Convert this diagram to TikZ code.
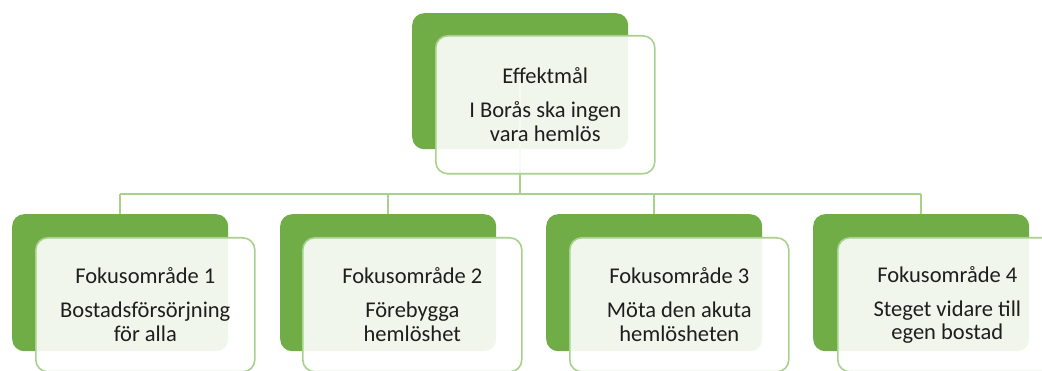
\documentclass[tikz,border=0pt]{standalone}
\usepackage{fontspec}
\setmainfont{Carlito}
\definecolor{gdark}{HTML}{70AD47}
\definecolor{glight}{HTML}{A9D18E}
\definecolor{txt}{HTML}{1E1E1E}
\tikzset{
  backbox/.style={draw=none, fill=gdark, rounded corners=12pt, minimum width=216pt, minimum height=137pt, inner sep=0pt, anchor=north west},
  frontbox/.style={draw=glight, line width=1.6pt, fill=white, fill opacity=0.9, text opacity=1, rounded corners=12pt, minimum width=219pt, minimum height=134pt, inner sep=0pt, anchor=north west, text=txt, align=center, font=\fontsize{22.5pt}{23.5pt}\selectfont},
  conn/.style={draw=glight, line width=1.6pt}
}
\newcommand{\gap}{\\[10.5pt]}
\begin{document}
\begin{tikzpicture}[x=1pt,y=-1pt]
\useasboundingbox (0,0) rectangle (1042,371);
\clip (0,0) rectangle (1042,371);
\fill[white] (0,0) rectangle (1042,371);
% green back boxes
\node[backbox, minimum height=136pt] (g0) at (412,13) {};
\node[backbox] (g1) at (12,214) {};
\node[backbox] (g2) at (280,214) {};
\node[backbox] (g3) at (546,214) {};
\node[backbox] (g4) at (813,214) {};
% connectors
\coordinate (hb) at (0,194);
\draw[conn] (g0.center) -- (g0.center |- hb);
\draw[conn] (g1.north |- hb) -- (g4.north |- hb);
\foreach \i in {1,2,3,4} { \draw[conn] (g\i.north |- hb) -- (g\i.north); }
\draw[conn] (g0.south) -- (g0.center |- hb);
% front boxes
\node[frontbox, minimum height=138pt] (f0) at (435,35) {Effektmål\gap I Borås ska ingen\\vara hemlös};
\node[frontbox] (f1) at (35,237) {Fokusområde 1\gap Bostadsförsörjning\\för alla};
\node[frontbox] (f2) at (302,237) {Fokusområde 2\gap Förebygga\\hemlöshet};
\node[frontbox] (f3) at (569,237) {Fokusområde 3\gap Möta den akuta\\hemlösheten};
\node[frontbox] (f4) at (837,237) {Fokusområde 4\gap Steget vidare till\\egen bostad};
\end{tikzpicture}
\end{document}
